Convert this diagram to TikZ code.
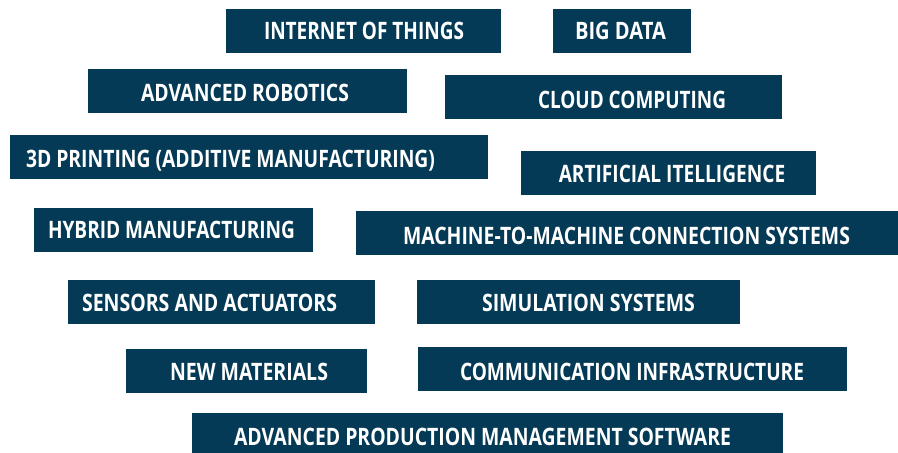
\documentclass[tikz,border=0pt]{standalone}
\usepackage{fontspec}
\usepackage{graphicx}
\setmainfont{Open Sans}
\usetikzlibrary{fit}

\definecolor{tileblue}{RGB}{4,58,85}

% set a label in bold caps, squeezed horizontally to a given width (pt)
\newcommand\fitw[2]{%
  \setbox0=\hbox{#2}%
  \pgfmathsetmacro\fitratio{#1/\the\wd0}%
  \scalebox{\fitratio}[1]{\box0}}

\tikzset{
  tile/.style={fill=tileblue, draw=none, inner sep=0pt},
  tiletext/.style={text=white, inner sep=0pt, anchor=base,
    font=\fontsize{24}{25}\selectfont\bfseries}
}

% \techtile{name}{x1}{y1}{x2}{y2}{text centre x}{baseline y}{text width}{label}
\newcommand\techtile[9]{%
  \node[tile, fit={(#2,#3) (#4,#5)}] (#1) {};
  \node[tiletext] (#1-label) at (#6,#7) {\fitw{#8}{#9}};
}

\begin{document}
\begin{tikzpicture}[x=1pt, y=-1pt]
  \useasboundingbox (0,0) rectangle (898,453);

  \techtile{iot}{226}{9}{501}{53}{364}{39}{200}{INTERNET OF THINGS}
  \techtile{bigdata}{553}{9}{691}{53}{620.5}{39}{91}{BIG DATA}
  \techtile{robotics}{88}{69}{407}{113}{245}{101.5}{208}{ADVANCED ROBOTICS}
  \techtile{cloud}{445}{75}{782}{119}{632}{108.5}{188}{CLOUD COMPUTING}
  \techtile{printing}{10}{135}{488}{179}{230.5}{167}{409}{3D PRINTING (ADDITIVE MANUFACTURING)}
  \techtile{ai}{521}{151}{816}{195}{672}{182}{226.5}{ARTIFICIAL ITELLIGENCE}
  \techtile{hybrid}{34}{208}{313}{252}{171.5}{238}{247}{HYBRID MANUFACTURING}
  \techtile{mtm}{356}{211}{898}{255}{626.5}{244}{447}{MACHINE-TO-MACHINE CONNECTION SYSTEMS}
  \techtile{sensors}{68}{280}{375}{324}{209.5}{311.5}{255}{SENSORS AND ACTUATORS}
  \techtile{simulation}{417}{280}{740}{324}{588.5}{311.5}{213}{SIMULATION SYSTEMS}
  \techtile{materials}{126}{349}{367}{393}{249}{380}{158}{NEW MATERIALS}
  \techtile{comm}{418}{347}{847}{391}{632}{380}{344}{COMMUNICATION INFRASTRUCTURE}
  \techtile{software}{192}{413}{783}{453}{482.5}{445.5}{497}{ADVANCED PRODUCTION MANAGEMENT SOFTWARE}
\end{tikzpicture}
\end{document}
